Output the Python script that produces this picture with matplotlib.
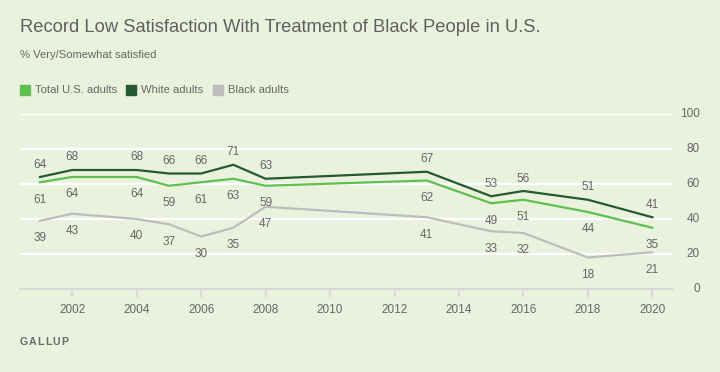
import matplotlib.pyplot as plt
from matplotlib import transforms

plt.rcParams['font.family'] = ['Liberation Sans', 'DejaVu Sans']

# data
years = [2001, 2002, 2004, 2005, 2006, 2007, 2008, 2013, 2015, 2016, 2018, 2020]
total = [61, 64, 64, 59, 61, 63, 59, 62, 49, 51, 44, 35]
white = [64, 68, 68, 66, 66, 71, 63, 67, 53, 56, 51, 41]
black = [39, 43, 40, 37, 30, 35, 47, 41, 33, 32, 18, 21]
xticks = list(range(2002, 2021, 2))
yticks = [0, 20, 40, 60, 80, 100]

bg = "#eaf2de"
txt = "#666666"
c_total = "#5fbf50"
c_white = "#245a32"
c_black = "#bdbdbd"

fig = plt.figure(figsize=(7.2, 3.72), dpi=100)
fig.patch.set_facecolor(bg)
ax = fig.add_axes([20/720, 1 - 289/372, 652/720, 175/372])
ax.set_facecolor(bg)

ax.set_xlim(2000.38, 2020.61)
ax.set_ylim(0, 100)

for y in yticks[1:]:
    ax.axhline(y, color="white", lw=1.6, zorder=1)

for s in ["top", "left", "right"]:
    ax.spines[s].set_visible(False)
ax.spines["bottom"].set_color("#d8d8d8")
ax.spines["bottom"].set_linewidth(1.6)

ax.plot(years, black, color=c_black, lw=1.6, zorder=3)
ax.plot(years, total, color=c_total, lw=1.6, zorder=4)
ax.plot(years, white, color=c_white, lw=1.6, zorder=5)

# value labels
for x, w, t, b in zip(years, white, total, black):
    ax.annotate(str(w), (x, w), xytext=(0, 9), textcoords="offset points",
                ha="center", va="center", fontsize=8.5, color=txt)
    ax.annotate(str(t), (x, t), xytext=(0, -12.5), textcoords="offset points",
                ha="center", va="center", fontsize=8.5, color=txt)
    ax.annotate(str(b), (x, b), xytext=(0, -12.5), textcoords="offset points",
                ha="center", va="center", fontsize=8.5, color=txt)

ax.set_xticks(xticks)
ax.tick_params(axis="x", length=6, width=1.6, color="#d8d8d8", pad=5,
               labelsize=8.5, labelcolor=txt)
ax.set_yticks([])
trans = transforms.blended_transform_factory(fig.transFigure, ax.transData)
for y in yticks:
    ax.text(700/720, y, str(y), transform=trans, ha="right", va="center",
            fontsize=8.5, color=txt)

# title / subtitle / legend
fig.text(20/720, 1 - 27/372, "Record Low Satisfaction With Treatment of Black People in U.S.",
         fontsize=13.2, color="#606060", va="center", ha="left")
fig.text(20/720, 1 - 55/372, "% Very/Somewhat satisfied",
         fontsize=8.1, color=txt, va="center", ha="left")

leg = [("Total U.S. adults", c_total, 20), ("White adults", c_white, 126),
       ("Black adults", c_black, 213)]
for label, col, x0 in leg:
    fig.patches.append(plt.Rectangle((x0/720, 1 - 95/372), 10/720, 10/372,
                                     transform=fig.transFigure, color=col))
    fig.text((x0 + 15)/720, 1 - 90/372, label, fontsize=8.1, color=txt,
             va="center", ha="left")

# letter-spaced footer
r = fig.canvas.get_renderer()
xpos = 20
for ch in "GALLUP":
    t = fig.text(xpos/720, 1 - 342/372, ch, fontsize=7.6, color="#6a6a6a",
                 va="center", ha="left", fontweight="semibold")
    xpos += t.get_window_extent(renderer=r).width + 0.9

fig.savefig("out.png", dpi=100, facecolor=bg)
